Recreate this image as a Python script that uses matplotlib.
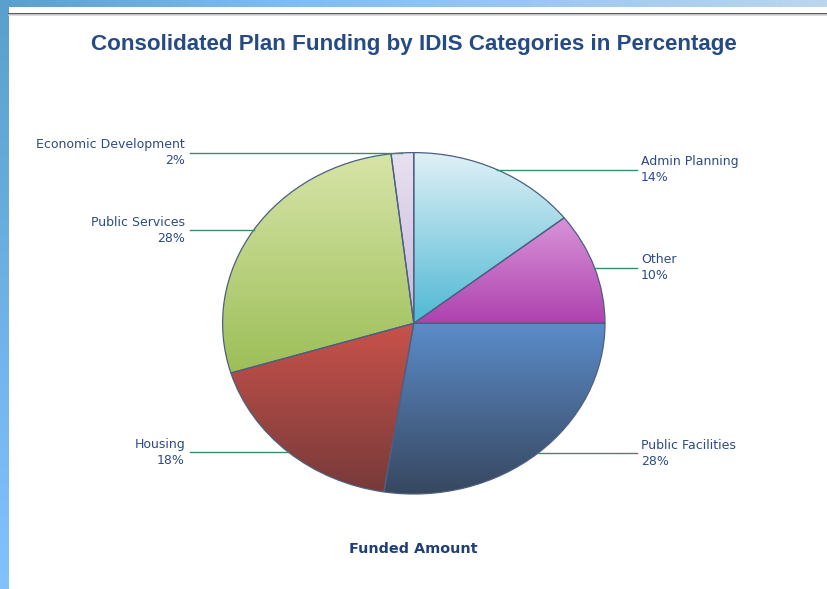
import numpy as np
import matplotlib
matplotlib.use("Agg")
import matplotlib.pyplot as plt
from matplotlib.colors import LinearSegmentedColormap

# ---- data ----
categories = ["Admin Planning", "Other", "Public Facilities", "Housing",
              "Public Services", "Economic Development"]
values = [14.4, 10.6, 27.5, 17.8, 27.8, 1.9]          # slice sizes
pct_labels = [14, 10, 28, 18, 28, 2]                   # percentages printed on the chart
top_colors = ["#e0f1f6", "#d994d9", "#5b8cca", "#c9524a", "#d8e4a8", "#e8e1f0"]
bottom_colors = ["#4fb8d4", "#ae42af", "#37475f", "#773a3a", "#9cbf58", "#c8b8db"]

title = "Consolidated Plan Funding by IDIS Categories in Percentage"
xlabel = "Funded Amount"

W, H = 827, 589
fig = plt.figure(figsize=(W / 100, H / 100), dpi=100)
fig.patch.set_facecolor("white")

# ---- background frame (pixel coordinates) ----
bg = fig.add_axes([0, 0, 1, 1], zorder=0)
bg.axis("off")
top_cmap = LinearSegmentedColormap.from_list("t", ["#5a9fcc", "#7cbcf4", "#9cc8f4", "#bcd6ee"])
bg.imshow(np.linspace(0, 1, 256)[None, :], cmap=top_cmap, extent=(0, W, 7, 0),
          aspect="auto", zorder=1)
left_cmap = LinearSegmentedColormap.from_list("l", ["#5aa0cc", "#82c2ff"])
bg.imshow(np.linspace(0, 1, 256)[:, None], cmap=left_cmap, extent=(0, 9, H, 0),
          aspect="auto", zorder=2)
bg.plot([9, W], [13.5, 13.5], color="#3a3a3a", lw=1.2, zorder=3)
bg.plot([9, W], [15, 15], color="#d8d8d8", lw=1.2, zorder=3)
bg.set_xlim(0, W)
bg.set_ylim(H, 0)

bg.text(414, 44.5, title, ha="center", va="center", fontsize=16.1, fontweight="bold",
        color="#264b84", family="Liberation Sans")
bg.text(413, 549, xlabel, ha="center", va="center", fontsize=10.4, fontweight="bold",
        color="#1f3f78", family="DejaVu Sans")

# ---- pie ----
cx, cy, rx, ry = 413.8, 323.3, 191.2, 170.7
ax = fig.add_axes([(cx - rx) / W, (H - cy - ry) / H, 2 * rx / W, 2 * ry / H], zorder=2)
wedges, _ = ax.pie(values, startangle=90, counterclock=False, radius=1,
                   colors=["none"] * len(values),
                   wedgeprops=dict(edgecolor="#4d5f80", linewidth=0.9))
ax.set_aspect("auto")
ax.axis("off")

for w, ct, cb in zip(wedges, top_colors, bottom_colors):
    th = np.radians(np.linspace(w.theta1, w.theta2, 200))
    ys = np.concatenate([np.sin(th), [0]])
    y0, y1 = ys.min(), ys.max()
    cm = LinearSegmentedColormap.from_list("w", [cb, ct])
    grad = np.linspace(0, 1, 256)[:, None]
    im = ax.imshow(grad, cmap=cm, extent=(-1, 1, y0, y1), origin="lower",
                   aspect="auto", zorder=1)
    im.set_clip_path(w)
    w.set_zorder(2)

ax.set_aspect("auto")
ax.set_xlim(-1, 1)
ax.set_ylim(-1, 1)

# ---- labels with horizontal leader lines ----
right_text_x = (641 - cx) / rx
right_line_x = (637 - cx) / rx
left_text_x = (185 - cx) / rx
left_line_x = (190 - cx) / rx
for w, name, p in zip(wedges, categories, pct_labels):
    mid = np.radians((w.theta1 + w.theta2) / 2)
    yy = np.sin(mid)
    xe = np.cos(mid)
    if xe >= 0:
        ax.plot([xe, right_line_x], [yy, yy], color="#3f8a6c", lw=1.0, clip_on=False, zorder=3)
        ax.text(right_text_x, yy, f"{name}\n{p}%", ha="left", va="center", fontsize=9,
                color="#2d4a86", linespacing=1.3, clip_on=False)
    else:
        ax.plot([left_line_x, xe], [yy, yy], color="#3f8a6c", lw=1.0, clip_on=False, zorder=3)
        ax.text(left_text_x, yy, f"{name}\n{p}%", ha="right", va="center", fontsize=9,
                color="#2d4a86", linespacing=1.3, multialignment="right", clip_on=False)

ax.set_xlim(-1, 1)
ax.set_ylim(-1, 1)
fig.savefig("out.png", dpi=100)
